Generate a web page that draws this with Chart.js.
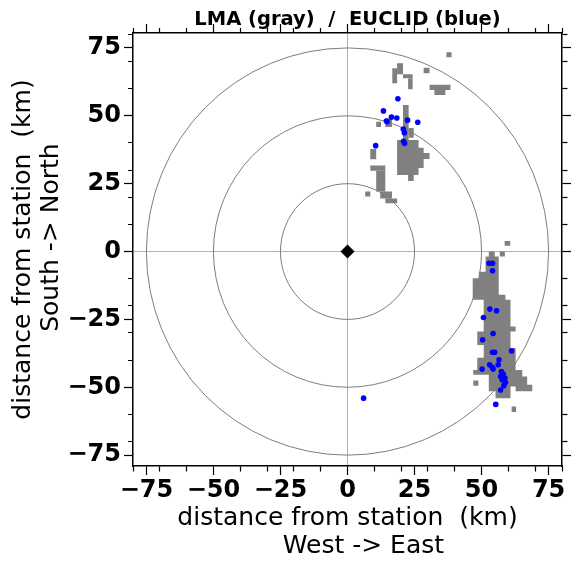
<!DOCTYPE html>
<html>
<head>
<meta charset="utf-8">
<script src="https://cdn.jsdelivr.net/npm/chart.js@4/dist/chart.umd.min.js"></script>
<style>
  html, body { margin: 0; padding: 0; background: #fff; }
  canvas { display: block; }
</style>
</head>
<body>
<canvas id="chart" width="572" height="566"></canvas>
<script>
// EUCLID strokes (km east, km north of the station)
const euclidX = [18.8, 13.4, 16.4, 18.4, 14.5, 14.8, 22.4, 26.2, 20.8, 21.2, 20.9, 21.3, 10.5,
                 6.0,
                 52.8, 54.1, 54.1, 53.1, 55.6, 50.7, 54.3, 50.4, 54.1, 54.9, 61.2, 56.5, 53.0,
                 54.0, 56.2, 50.2, 54.3, 57.4, 58.1, 57.1, 58.7, 57.7, 58.9, 58.3, 57.1, 55.3];
const euclidY = [56.3, 51.8, 49.5, 49.2, 48.1, 47.8, 48.4, 47.6, 45.1, 43.8, 40.6, 39.9, 39.0,
                 -54.0,
                 -4.3, -4.3, -7.1, -21.2, -21.8, -24.3, -30.2, -32.5, -37.1, -37.1, -36.6, -39.9, -41.7,
                 -42.6, -41.7, -43.3, -43.3, -44.2, -45.1, -46.0, -46.6, -47.2, -48.2, -49.4, -51.0, -56.3];

// LMA source cells, as boxes [west, east, south, north] in km
const lmaBoxes = [
  [36.9, 38.8, 71.6, 73.4], [28.4, 30.6, 65.7, 67.7], [16.7, 18.5, 62.0, 67.5],
  [18.5, 20.7, 65.3, 69.4], [20.7, 24.3, 63.8, 65.3], [22.6, 24.3, 59.8, 63.8],
  [30.6, 38.4, 59.5, 61.4], [32.4, 36.5, 57.7, 59.5], [10.7, 12.5, 45.9, 47.8],
  [14.1, 16.6, 45.9, 49.0], [20.7, 22.8, 40.0, 54.0], [22.8, 24.7, 41.9, 45.5],
  [8.5, 10.7, 34.0, 37.8], [8.5, 14.1, 29.8, 31.7], [10.7, 14.1, 22.1, 29.8],
  [12.2, 16.6, 19.5, 22.1], [14.1, 18.5, 17.8, 19.5], [6.6, 8.5, 20.3, 22.1],
  [58.6, 60.7, 2.1, 3.9], [56.8, 58.7, -1.8, 0], [46.9, 48.8, -49.4, -47.5],
  [61.2, 62.9, -59.1, -57.1]
];

// LMA larger areas, as outlines [km east, km north]
const lmaNorthArea = [
  [18.5, 41.1], [26.5, 41.1], [26.5, 38.2], [28.4, 38.2], [28.4, 36.3], [30.6, 36.3],
  [30.6, 34.1], [28.4, 34.1], [28.4, 30.8], [26.5, 30.8], [26.5, 28.2], [24.7, 28.2],
  [24.7, 26.0], [22.6, 26.0], [22.6, 28.2], [18.5, 28.2]
];
const lmaSouthArea = [
  [52.7, 0], [54.9, 0], [54.9, -1.8], [56.4, -1.8], [56.4, -15.9], [58.9, -15.9],
  [58.9, -17.8], [60.8, -17.8], [60.8, -27.6], [62.7, -27.6], [62.7, -29.5], [60.8, -29.5],
  [60.8, -35.5], [62.7, -35.5], [62.7, -43.6], [65.2, -43.6], [65.2, -46.0], [67.0, -46.0],
  [67.0, -49.1], [68.9, -49.1], [68.9, -51.5], [62.7, -51.5], [62.7, -49.7], [60.8, -49.7],
  [60.8, -54.0], [55.2, -54.0], [55.2, -51.5], [52.7, -51.5], [52.7, -45.4], [46.9, -45.4],
  [46.9, -43.6], [48.4, -43.6], [48.4, -39.1], [50.8, -39.1], [50.8, -34.4], [48.4, -34.4],
  [48.4, -29.5], [50.8, -29.5], [50.8, -17.8], [46.7, -17.8], [46.7, -9.8], [49.0, -9.8],
  [49.0, -7.4], [51.5, -7.4], [51.5, -1.8], [52.7, -1.8]
];

const stationX = 0;
const stationY = 0;
const ringRadii = [25, 50, 75];
const majorTicks = [-75, -50, -25, 0, 25, 50, 75];
const minorTicks = [-80, -70, -60, -40, -30, -20, -10, 10, 20, 30, 40, 60, 70, 80];
const xRange = [-80, 80];
const yRange = [-79, 80.5];

const FONT = 'DejaVu Sans';
const GRAY = 'rgb(128,128,128)';

function boxOutline(b) {
  return [[b[0], b[2]], [b[1], b[2]], [b[1], b[3]], [b[0], b[3]]];
}

const lmaSets = [lmaNorthArea, lmaSouthArea].concat(lmaBoxes.map(boxOutline)).map(poly => ({
  type: 'line',
  label: 'LMA',
  data: poly.concat([poly[0]]).map(p => ({x: p[0], y: p[1]})),
  fill: 'shape',
  backgroundColor: GRAY,
  borderColor: 'rgba(0,0,0,0)',
  borderWidth: 0,
  pointRadius: 0,
  tension: 0,
  order: 10
}));

function tickLabel(v) {
  if (!majorTicks.includes(v)) return '';
  return v < 0 ? '\u2212' + Math.abs(v) : String(v);
}

function setTicks(scale) {
  scale.ticks = majorTicks.concat(minorTicks)
    .filter(v => v >= scale.min && v <= scale.max)
    .sort((a, b) => a - b)
    .map(v => ({value: v}));
}

function makeAxis(position, range, labels, size, title) {
  const inner = position === 'bottom' || position === 'right';
  return {
    type: 'linear',
    position: position,
    min: range[0],
    max: range[1],
    afterBuildTicks: setTicks,
    afterFit: s => { if (s.isHorizontal()) s.height = size; else s.width = size; },
    ticks: {
      autoSkip: false,
      maxRotation: 0,
      padding: position === 'bottom' ? 1 : 3,
      color: '#000',
      font: {family: FONT, size: 24, weight: 'bold'},
      callback: v => labels ? tickLabel(v) : ''
    },
    grid: {
      drawOnChartArea: labels,
      color: c => c.tick && c.tick.value === 0 ? '#b0b0b0' : 'rgba(0,0,0,0)',
      lineWidth: 1,
      tickLength: 9,
      tickWidth: 1.2,
      tickColor: '#000',
      tickBorderDash: c => (c.tick && majorTicks.includes(c.tick.value)) ? [] : (inner ? [5, 30] : [0, 4, 5, 30])
    },
    border: {display: true, color: '#000', width: 1.5},
    title: title
  };
}

const ringPlugin = {
  id: 'rings',
  beforeDatasetDraw(chart, args) {
    if (chart.data.datasets[args.index].label !== 'EUCLID') return;
    const {x, y} = chart.scales;
    const area = chart.chartArea;
    const ctx = chart.ctx;
    const cx = x.getPixelForValue(stationX);
    const cy = y.getPixelForValue(stationY);
    ctx.save();
    ctx.beginPath();
    ctx.rect(area.left, area.top, area.right - area.left, area.bottom - area.top);
    ctx.clip();
    ctx.strokeStyle = 'rgb(125,125,125)';
    ctx.lineWidth = 1;
    ringRadii.forEach(r => {
      ctx.beginPath();
      ctx.ellipse(cx, cy, x.getPixelForValue(r) - cx, cy - y.getPixelForValue(r), 0, 0, 2 * Math.PI);
      ctx.stroke();
    });
    ctx.restore();
  }
};

new Chart(document.getElementById('chart'), {
  type: 'scatter',
  data: {
    datasets: lmaSets.concat([
      {
        label: 'EUCLID',
        data: euclidX.map((x, i) => ({x: x, y: euclidY[i]})),
        pointRadius: 2.8,
        backgroundColor: '#0000ff',
        borderWidth: 0,
        order: 1
      },
      {
        label: 'station',
        data: [{x: stationX, y: stationY}],
        pointStyle: 'rectRot',
        pointRadius: 7,
        backgroundColor: '#000',
        borderWidth: 0,
        order: 0
      }
    ])
  },
  options: {
    responsive: false,
    animation: false,
    devicePixelRatio: 1,
    layout: {padding: 0},
    plugins: {legend: {display: false}, tooltip: {enabled: false}, title: {display: false}},
    scales: {
      x: makeAxis('bottom', xRange, true, 100, {
        display: true,
        text: ['distance from station  (km)', '    West -> East'],
        color: '#000',
        font: {family: FONT, size: 25, lineHeight: 1.1},
        padding: {top: 0, bottom: 6}
      }),
      x2: makeAxis('top', xRange, false, 33, {
        display: true,
        text: 'LMA (gray)  /  EUCLID (blue)',
        color: '#000',
        font: {family: FONT, size: 19.5, weight: 'bold'},
        padding: {top: 8, bottom: 0}
      }),
      y: makeAxis('left', yRange, true, 133, {
        display: true,
        text: ['distance from station  (km)', '   South -> North'],
        color: '#000',
        font: {family: FONT, size: 25, lineHeight: 1.1},
        padding: {top: 10, bottom: 0}
      }),
      y2: makeAxis('right', yRange, false, 10, {display: false})
    }
  },
  plugins: [ringPlugin]
});
</script>
</body>
</html>
